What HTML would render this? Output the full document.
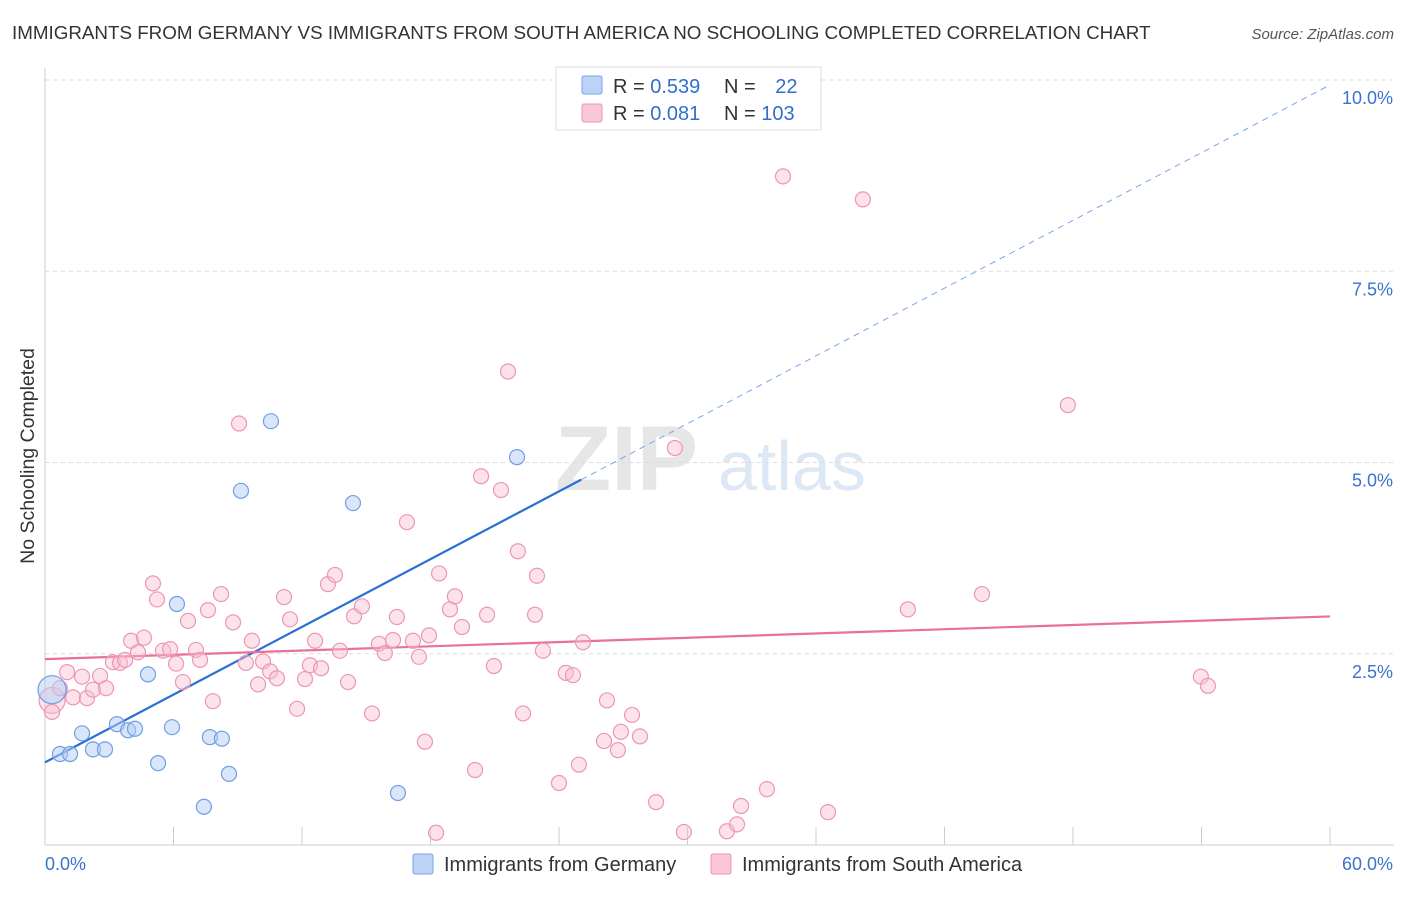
<!DOCTYPE html>
<html><head><meta charset="utf-8">
<style>
body{margin:0;background:#fff;font-family:"Liberation Sans",sans-serif;}
svg text{font-family:"Liberation Sans",sans-serif;}
</style></head>
<body>
<svg id="chart" width="1406" height="892" viewBox="0 0 1406 892">
<text x="12" y="39" font-size="18.8" fill="#333">IMMIGRANTS FROM GERMANY VS IMMIGRANTS FROM SOUTH AMERICA NO SCHOOLING COMPLETED CORRELATION CHART</text>
<text x="1394" y="39" font-size="15" fill="#555" font-style="italic" text-anchor="end">Source: ZipAtlas.com</text>
<text x="0" y="0" transform="translate(34,456) rotate(-90)" font-size="19.5" fill="#333" text-anchor="middle">No Schooling Completed</text>
<g>
<text x="555" y="490" font-size="92" fill="#e6e6e6" font-family="Liberation Serif" font-weight="bold">ZIP</text>
<text x="718" y="490" font-size="70" fill="#dde8f5">atlas</text>
</g>
<g id="grid"></g>
<g id="axes"></g>
<g id="lines"></g>
<g id="pts"></g>
<g>
<rect x="556" y="67" width="265" height="63" fill="#fff" stroke="#ddd"/>
<rect x="582" y="76" width="20" height="18" fill="#bcd3f5" stroke="#7aa5e6" rx="2"/>
<rect x="582" y="104" width="20" height="18" fill="#f9c6d6" stroke="#ec97b2" rx="2"/>
<text x="613" y="93" font-size="20" fill="#333">R = <tspan fill="#2f6fce">0.539</tspan></text>
<text x="724" y="93" font-size="20" fill="#333">N = <tspan fill="#2f6fce" dx="14">22</tspan></text>
<text x="613" y="120" font-size="20" fill="#333">R = <tspan fill="#2f6fce">0.081</tspan></text>
<text x="724" y="120" font-size="20" fill="#333">N = <tspan fill="#2f6fce">103</tspan></text>
</g>
<g>
<rect x="413" y="854" width="20" height="20" fill="#bcd3f5" stroke="#7aa5e6" rx="2"/>
<text x="444" y="871" font-size="20" fill="#333">Immigrants from Germany</text>
<rect x="711" y="854" width="20" height="20" fill="#f9c6d6" stroke="#ec97b2" rx="2"/>
<text x="742" y="871" font-size="20" fill="#333">Immigrants from South America</text>
</g>
</svg>
<script>
const germanyX=[0.33,0.70,1.17,1.73,2.24,2.80,3.36,3.88,4.20,4.81,5.28,5.93,6.16,7.42,7.70,8.26,8.59,9.15,10.55,14.38,16.48,22.04];
const germanyY=[2.03,1.19,1.19,1.46,1.25,1.25,1.58,1.50,1.52,2.23,1.07,1.54,3.15,0.50,1.41,1.39,0.93,4.63,5.54,4.47,0.68,5.07];
const saX=[0.33,0.33,0.70,1.03,1.31,1.73,1.96,2.24,2.57,2.85,3.17,3.50,3.74,4.02,4.34,4.62,5.04,5.23,5.51,5.84,6.12,6.44,6.68,7.05,7.24,7.61,7.84,8.22,8.78,9.06,9.38,9.66,9.95,10.18,10.51,10.83,11.16,11.44,11.77,12.14,12.37,12.61,12.89,13.21,13.54,13.77,14.15,14.43,14.80,15.27,15.59,15.87,16.25,16.43,16.90,17.18,17.46,17.74,17.93,18.26,18.40,18.91,19.14,19.47,20.08,20.36,20.64,20.96,21.29,21.62,22.08,22.32,22.88,22.97,23.25,24.00,24.32,24.65,24.93,25.12,26.10,26.24,26.75,26.89,27.41,27.78,28.53,29.41,29.83,31.84,32.31,32.50,33.71,34.46,36.56,38.19,40.29,43.75,47.76,53.97,54.30];
const saY=[1.89,1.74,2.05,2.26,1.93,2.20,1.92,2.03,2.21,2.05,2.39,2.38,2.42,2.67,2.52,2.71,3.42,3.21,2.54,2.56,2.37,2.13,2.93,2.55,2.42,3.07,1.88,3.28,2.91,5.51,2.38,2.67,2.10,2.40,2.27,2.18,3.24,2.95,1.78,2.17,2.35,2.67,2.31,3.41,3.53,2.54,2.13,2.99,3.12,1.72,2.63,2.51,2.68,2.98,4.22,2.67,2.46,1.35,2.74,0.16,3.55,3.08,3.25,2.85,0.98,4.82,3.01,2.34,4.64,6.19,3.84,1.72,3.01,3.52,2.54,0.81,2.25,2.22,1.05,2.65,1.36,1.89,1.24,1.48,1.70,1.42,0.56,5.19,0.17,0.18,0.27,0.51,0.73,8.74,0.43,8.44,3.08,3.28,5.75,2.20,2.08];
const germanyTrend=[1.08,0.1476]; // intercept, slope
const saTrend=[2.43,0.0093];
const xTicks=[0,6,12,18,24,30,36,42,48,54,60];
const yTicks=[2.5,5.0,7.5,10.0];
const yTickLabels=["2.5%","5.0%","7.5%","10.0%"];

const NS="http://www.w3.org/2000/svg";
const X0=45,X1=1330,YB=845,YT=80;
const sx=v=>X0+(v/60)*(X1-X0);
const sy=v=>YB-(v/10)*(YB-YT);
function mk(tag,attrs,parent){const e=document.createElementNS(NS,tag);for(const k in attrs)e.setAttribute(k,attrs[k]);parent.appendChild(e);return e;}
const grid=document.getElementById('grid'),axes=document.getElementById('axes'),lines=document.getElementById('lines'),pts=document.getElementById('pts');
yTicks.forEach((t,i)=>{
 const l=mk('line',{x1:X0,x2:1394,y1:sy(t),y2:sy(t),stroke:'#ddd','stroke-dasharray':'4,4'},grid);
 
 
 const tx=mk('text',{x:1393,y:sy(t)+24,'font-size':18,fill:'#3b73cc','text-anchor':'end'},axes);
 tx.textContent=yTickLabels[i];
 
 
});
mk('line',{x1:X0,x2:X0,y1:68,y2:YB,stroke:'#ccc'},axes);
mk('line',{x1:X0,x2:1394,y1:YB,y2:YB,stroke:'#ccc'},axes);
xTicks.forEach(t=>{
 const l=mk('line',{x1:sx(t),x2:sx(t),y1:YB-18,y2:YB,stroke:'#ccc'},axes);
 
 
});
const xl0=mk('text',{x:45,y:870,'font-size':18,fill:'#3b73cc'},axes);xl0.textContent='0.0%';


const xl1=mk('text',{x:1393,y:870,'font-size':18,fill:'#3b73cc','text-anchor':'end'},axes);xl1.textContent='60.0%';



const gy=x=>germanyTrend[0]+germanyTrend[1]*x;
const gMax=Math.max(...germanyX)+3;
const l1=mk('line',{x1:sx(0),y1:sy(gy(0)),x2:sx(gMax),y2:sy(gy(gMax)),stroke:'#2a6fd6','stroke-width':2.2},lines);


const l2=mk('line',{x1:sx(gMax),y1:sy(gy(gMax)),x2:sx(60),y2:sy(gy(60)),stroke:'#7aa5e6','stroke-width':1,'stroke-dasharray':'6,5'},lines);


const py=x=>saTrend[0]+saTrend[1]*x;
const l3=mk('line',{x1:sx(0),y1:sy(py(0)),x2:sx(60),y2:sy(py(60)),stroke:'#e8709a','stroke-width':2.2},lines);



saX.forEach((x,i)=>{
 const c=mk('circle',{cx:sx(x),cy:sy(saY[i]),r:i==0?13:7.5,fill:'rgba(249,190,210,0.45)',stroke:'#ec97b2','stroke-width':1.2},pts);
 
 
});
germanyX.forEach((x,i)=>{
 const c=mk('circle',{cx:sx(x),cy:sy(germanyY[i]),r:i==0?14:7.5,fill:'rgba(180,205,245,0.5)',stroke:'#6f9ee3','stroke-width':1.2},pts);
 
 
});
</script>
</body></html>
